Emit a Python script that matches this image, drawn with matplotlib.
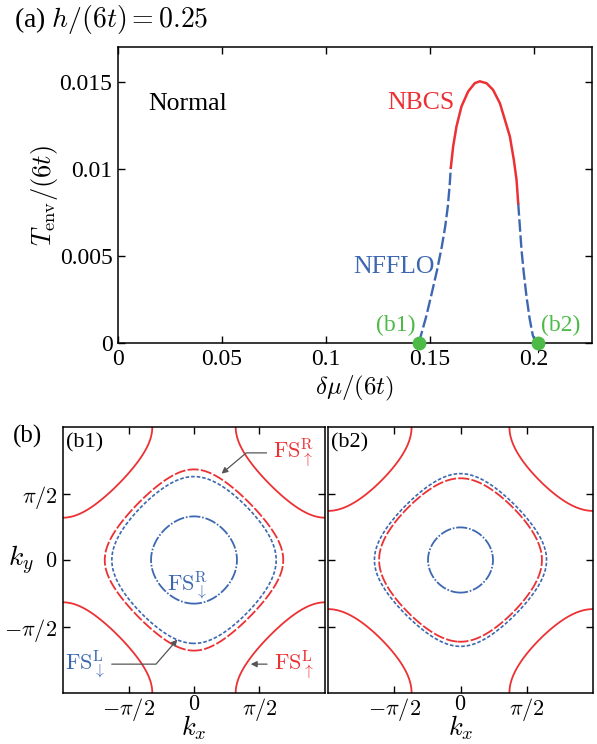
import numpy as np
import matplotlib
matplotlib.use("Agg")
import matplotlib.pyplot as plt
from matplotlib.ticker import FixedLocator, FixedFormatter

plt.rcParams['font.family'] = ['Liberation Serif', 'DejaVu Serif']
plt.rcParams['mathtext.fontset'] = 'cm'
plt.rcParams['lines.scale_dashes'] = False

RED = '#ec3134'
BLUE = '#3d68b1'
GREEN = '#4dba48'
GRAY = '#555555'

# ---------------- data: panel (a) ----------------
nffl_left_mu = [0.1447, 0.1482, 0.1510, 0.1535, 0.1557, 0.1574, 0.1586, 0.1595, 0.1601]
nffl_left_T = [0.0, 0.0015, 0.0029, 0.0042, 0.0055, 0.0067, 0.0078, 0.0090, 0.01008]
nbcs_mu = [0.1601, 0.1612, 0.1628, 0.1652, 0.1684, 0.1716, 0.1740, 0.1773, 0.1804,
           0.1837, 0.1861, 0.1885, 0.1904, 0.1917, 0.1925]
nbcs_T = [0.01008, 0.01128, 0.01243, 0.01358, 0.01444, 0.01492, 0.01503, 0.01492, 0.01454,
          0.01377, 0.01282, 0.01186, 0.01052, 0.00937, 0.00803]
nffl_right_mu = [0.1925, 0.1933, 0.1941, 0.1952, 0.1965, 0.1980, 0.1995, 0.2010]
nffl_right_T = [0.00803, 0.00669, 0.00534, 0.00401, 0.00266, 0.00140, 0.00045, 0.0]
b_points_mu = [0.1447, 0.2018]
b_points_T = [0.0, 0.0]
b_point_labels = ['(b1)', '(b2)']

a_xticks = [0, 0.05, 0.1, 0.15, 0.2]
a_xticklabels = ['0', '0.05', '0.1', '0.15', '0.2']
a_yticks = [0, 0.005, 0.01, 0.015]
a_yticklabels = ['0', '0.005', '0.01', '0.015']

# ---------------- data: panel (b) ----------------
b1_fs_up_L = (np.pi, 1.00)    # red solid (corners)
b1_fs_up_R = (2.14, 0.0)      # red dashed
b1_fs_dn_L = (1.97, 0.0)      # blue short dashes
b1_fs_dn_R = (1.03, 0.0)      # blue dash-dot
b2_fs_up_L = (np.pi, 1.16)
b2_fs_up_R = (1.93, 0.0)
b2_fs_dn_L = (2.04, 0.0)
b2_fs_dn_R = (0.77, 0.0)

k_ticks = [-np.pi / 2, 0, np.pi / 2]
k_ticklabels = [r'$-\pi/2$', r'$0$', r'$\pi/2$']

W, H = 597, 744
fig = plt.figure(figsize=(W / 100, H / 100), dpi=100)


def fr(x0, y0, x1, y1):
    return [x0 / W, 1 - y1 / H, (x1 - x0) / W, (y1 - y0) / H]


# ---------------- panel (a) ----------------
ax = fig.add_axes(fr(118, 47, 592, 343))
ax.plot(nffl_left_mu, nffl_left_T, color=BLUE, lw=1.7, dashes=(9, 2.6), solid_capstyle='butt')
ax.plot(nffl_right_mu, nffl_right_T, color=BLUE, lw=1.7, dashes=(9, 2.6), solid_capstyle='butt')
ax.plot(nbcs_mu, nbcs_T, color=RED, lw=1.8)
ax.plot(b_points_mu, b_points_T, 'o', color=GREEN, ms=9, clip_on=False, zorder=5)
ax.set_xlim(0, 0.228)
ax.set_ylim(0, 0.017)
ax.xaxis.set_major_locator(FixedLocator(a_xticks))
ax.xaxis.set_major_formatter(FixedFormatter(a_xticklabels))
ax.yaxis.set_major_locator(FixedLocator(a_yticks))
ax.yaxis.set_major_formatter(FixedFormatter(a_yticklabels))
ax.tick_params(direction='in', top=True, right=True, labelsize=17, length=5, width=1, pad=4)
for s in ax.spines.values():
    s.set_linewidth(1.1)
ax.set_xlabel(r'$\delta\mu/(6t)$', fontsize=18, labelpad=3)
ax.set_ylabel(r'$T_{\rm env}/(6t)$', fontsize=19, labelpad=0)
ax.text(0.0145, 0.0137, 'Normal', fontsize=18.5, va='center', ha='left')
ax.text(0.162, 0.0138, 'NBCS', fontsize=18.5, va='center', ha='right', color=RED)
ax.text(0.1524, 0.00437, 'NFFLO', fontsize=18.5, va='center', ha='right', color=BLUE)
ax.text(0.1433, 0.00098, b_point_labels[0], fontsize=17, va='center', ha='right', color=GREEN)
ax.text(0.2034, 0.00098, b_point_labels[1], fontsize=17, va='center', ha='left', color=GREEN)
fig.text(14 / W, 1 - 19 / H, r'(a) $h/(6t) = 0.25$', fontsize=20, va='center', ha='left')

# ---------------- panel (b) ----------------
k = np.linspace(-np.pi, np.pi, 601)
KX, KY = np.meshgrid(k, k)
E = np.cos(KX) + np.cos(KY)


def level(p):
    return np.cos(p[0]) + np.cos(p[1])


def draw_fs(axb, up_L, up_R, dn_L, dn_R):
    specs = [
        (up_L, RED, 'solid', 1.3),
        (up_R, RED, (0, (8, 1.6)), 1.3),
        (dn_L, BLUE, (0, (2.6, 1.4)), 1.2),
        (dn_R, BLUE, (0, (8, 1.3, 1.2, 1.3)), 1.3),
    ]
    for p, c, ls, lw in specs:
        cs = axb.contour(KX, KY, E, levels=[level(p)], colors=c, linewidths=lw)
        cs.set_linestyle(ls)
    axb.set_xlim(-np.pi, np.pi)
    axb.set_ylim(-np.pi, np.pi)
    axb.set_aspect('auto')
    axb.xaxis.set_major_locator(FixedLocator(k_ticks))
    axb.xaxis.set_major_formatter(FixedFormatter(k_ticklabels))
    axb.yaxis.set_major_locator(FixedLocator(k_ticks))
    axb.yaxis.set_major_formatter(FixedFormatter(k_ticklabels))
    axb.tick_params(direction='in', top=True, right=True, labelsize=16, length=5, width=1, pad=4)
    axb.tick_params(axis='x', pad=2)
    for s in axb.spines.values():
        s.set_linewidth(1.1)
    pos = axb.get_position()
    fig.text(pos.x0 + pos.width / 2, 2 / H, r'$k_x$', fontsize=19, ha='center', va='bottom')


ax1 = fig.add_axes(fr(63, 427, 325, 693))
draw_fs(ax1, b1_fs_up_L, b1_fs_up_R, b1_fs_dn_L, b1_fs_dn_R)
fig.text(21 / W, 1 - 560 / H, r'$k_y$', fontsize=20, va='center', ha='center')
ax1.text(0.01, 0.975, '(b1)', transform=ax1.transAxes, fontsize=16, va='top', ha='left')

ax2 = fig.add_axes(fr(328, 427, 593, 693))
draw_fs(ax2, b2_fs_up_L, b2_fs_up_R, b2_fs_dn_L, b2_fs_dn_R)
ax2.tick_params(labelleft=False)
ax2.text(0.01, 0.975, '(b2)', transform=ax2.transAxes, fontsize=16, va='top', ha='left')

fig.text(13 / W, 1 - 436 / H, '(b)', fontsize=18, va='center', ha='left')

arrow = dict(arrowstyle='-|>', color=GRAY, lw=0.9, mutation_scale=9, shrinkA=3, shrinkB=0)
ax1.annotate(r'$\mathrm{FS}^{\mathrm{R}}_{\uparrow}$', xy=(0.66, 2.04), xytext=(2.40, 2.53),
             color=RED, fontsize=16, ha='center', va='center', annotation_clip=False,
             arrowprops=dict(arrow, connectionstyle='angle,angleA=0,angleB=40,rad=0'))
ax1.annotate(r'$\mathrm{FS}^{\mathrm{L}}_{\downarrow}$', xy=(-0.40, -1.88), xytext=(-2.62, -2.46),
             color=BLUE, fontsize=16, ha='center', va='center', annotation_clip=False,
             arrowprops=dict(arrow, connectionstyle='angle,angleA=0,angleB=49,rad=0'))
ax1.annotate(r'$\mathrm{FS}^{\mathrm{L}}_{\uparrow}$', xy=(1.36, -2.46), xytext=(2.40, -2.46),
             color=RED, fontsize=16, ha='center', va='center', annotation_clip=False,
             arrowprops=dict(arrow))
ax1.text(-0.16, -0.59, r'$\mathrm{FS}^{\mathrm{R}}_{\downarrow}$', color=BLUE, fontsize=16,
         ha='center', va='center')

fig.savefig('out.png', dpi=100)
